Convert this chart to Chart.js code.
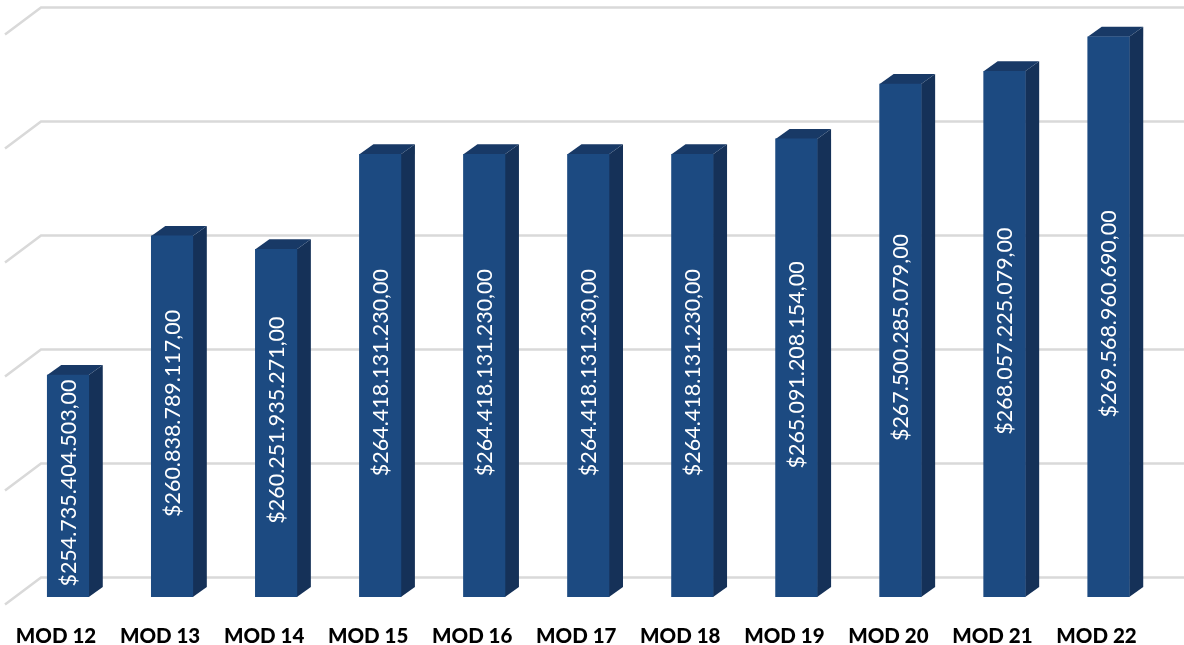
<!DOCTYPE html>
<html>
<head>
<meta charset="utf-8">
<script src="https://cdn.jsdelivr.net/npm/chart.js@4"></script>
<style>
html,body{margin:0;padding:0;background:#fff;overflow:hidden}
canvas{display:block}
</style>
</head>
<body>
<canvas id="c" width="1184" height="645"></canvas>
<script>
const categories = ["MOD 12","MOD 13","MOD 14","MOD 15","MOD 16","MOD 17","MOD 18","MOD 19","MOD 20","MOD 21","MOD 22"];
const contractValues = [254735404503,260838789117,260251935271,264418131230,264418131230,264418131230,264418131230,265091208154,267500285079,268057225079,269568960690];
const axisMin = 245000000000;
const axisMax = 270000000000;
const axisStep = 5000000000;

const BAR_DX = 14, BAR_DY = 10;
const WALL_DX = 36, WALL_DY = 27, WALL_UP = 19.5;

function money(v){
  return "$" + String(v).replace(/\B(?=(\d{3})+$)/g, ".") + ",00";
}

const bars3d = {
  id: "bars3d",
  beforeDatasetsDraw(chart){
    const ctx = chart.ctx, y = chart.scales.y, area = chart.chartArea;
    ctx.save();
    ctx.strokeStyle = "#d9d9d9";
    ctx.lineWidth = 2.5;
    y.ticks.forEach(t => {
      const py = y.getPixelForValue(t.value) - WALL_UP;
      ctx.beginPath();
      ctx.moveTo(area.left - 11, py + WALL_DY);
      ctx.lineTo(area.left - 11 + WALL_DX, py);
      ctx.lineTo(chart.width, py);
      ctx.stroke();
    });
    const meta = chart.getDatasetMeta(0);
    meta.data.forEach(b => {
      const r = b.x + b.width / 2, l = b.x - b.width / 2, top = b.y, base = b.base;
      ctx.fillStyle = "#153158";
      ctx.beginPath();
      ctx.moveTo(r, top); ctx.lineTo(r + BAR_DX, top - BAR_DY);
      ctx.lineTo(r + BAR_DX, base - BAR_DY); ctx.lineTo(r, base);
      ctx.closePath(); ctx.fill();
      ctx.fillStyle = "#183966";
      ctx.beginPath();
      ctx.moveTo(l, top); ctx.lineTo(l + BAR_DX, top - BAR_DY);
      ctx.lineTo(r + BAR_DX, top - BAR_DY); ctx.lineTo(r, top);
      ctx.closePath(); ctx.fill();
    });
    ctx.restore();
  },
  afterDatasetsDraw(chart){
    const ctx = chart.ctx;
    const meta = chart.getDatasetMeta(0);
    ctx.save();
    ctx.fillStyle = "#ffffff";
    ctx.font = '21.5px Lato, sans-serif';
    ctx.textAlign = "center";
    ctx.textBaseline = "middle";
    meta.data.forEach((b, i) => {
      ctx.save();
      ctx.translate(b.x, (b.y + b.base) / 2 - 3);
      ctx.rotate(-Math.PI / 2);
      ctx.fillText(money(contractValues[i]), 0, 1);
      ctx.restore();
    });
    ctx.restore();
  }
};

new Chart(document.getElementById("c"), {
  type: "bar",
  data: {
    labels: categories,
    datasets: [{
      data: contractValues,
      base: axisMin,
      backgroundColor: "#1c4a81",
      borderWidth: 0,
      barThickness: 41.5
    }]
  },
  options: {
    responsive: false,
    animation: false,
    layout: { padding: { left: 16, right: 23.5, top: 27, bottom: 0 } },
    plugins: { legend: { display: false }, tooltip: { enabled: false } },
    scales: {
      x: {
        grid: { display: false },
        border: { display: false },
        afterFit(s){ s.height = 48; },
        ticks: {
          color: "#000000",
          maxRotation: 0,
          autoSkip: false,
          padding: 19,
          labelOffset: -12,
          font: { family: "Lato, sans-serif", size: 20.5, weight: "900" }
        }
      },
      y: {
        min: axisMin,
        max: axisMax,
        grid: { display: false },
        border: { display: false },
        afterFit(s){ s.width = 0; },
        ticks: { display: false, stepSize: axisStep }
      }
    }
  },
  plugins: [bars3d]
});
</script>
</body>
</html>
